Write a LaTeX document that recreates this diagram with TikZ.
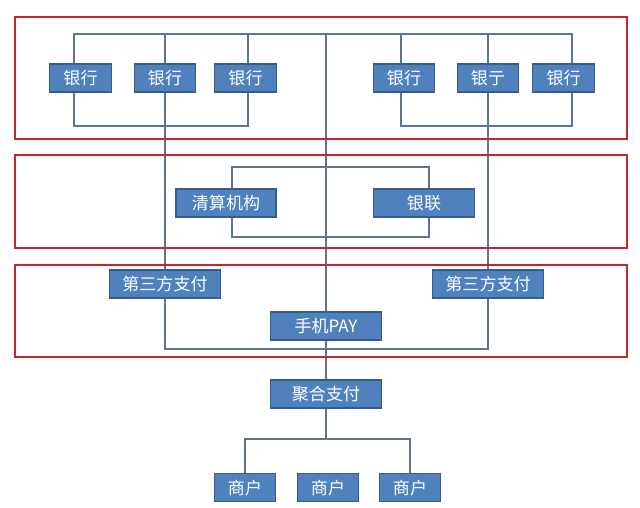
\documentclass[tikz,border=0pt]{standalone}
\usepackage{fontspec}
\usepackage{xcolor}
\usepackage{tikz}
\usetikzlibrary{shapes,backgrounds}
\newfontfamily\cjk{Noto Sans CJK SC}
\definecolor{boxblue}{HTML}{4F81BD}
\definecolor{boxedge}{HTML}{385D8A}
\definecolor{wire}{HTML}{5E7491}
\definecolor{framered}{HTML}{C8262E}
\tikzstyle{block} = [rectangle, draw=boxedge, line width=0.8pt, fill=boxblue, text=white, text centered, minimum height=0.7cm, inner sep=0pt, font=\cjk\fontsize{12.1}{14}\selectfont]
\tikzstyle{bank} = [block, minimum width=1.53cm]
\tikzstyle{wide} = [block, minimum width=2.78cm]
\tikzstyle{line} = [draw=wire, line width=0.8pt]
\tikzstyle{frame} = [draw=framered, line width=1.1pt]

\begin{document}
\begin{tikzpicture}
\useasboundingbox (0,0) rectangle (16,-12.675);
% layers
\draw [frame] (0.375,-0.425) rectangle (15.675,-3.475);
\draw [frame] (0.375,-3.875) rectangle (15.675,-6.2);
\draw [frame] (0.375,-6.625) rectangle (15.675,-8.925);
% banks
\node [bank] (bank1) at (2.0125,-1.95) {银行};
\node [bank] (bank2) at (4.125,-1.95) {银行};
\node [bank] (bank3) at (6.1375,-1.95) {银行};
\node [bank] (bank4) at (10.1,-1.95) {银行};
\node [bank] (bank5) at (12.2,-1.95) {银亍};
\node [bank] (bank6) at (14.0875,-1.95) {银行};
% clearing
\node [block, minimum width=2.5cm] (clear) at (5.65,-5.075) {清算机构};
\node [block, minimum width=2.52cm] (unionpay) at (10.6,-5.075) {银联};
% payment
\node [wide] (third1) at (4.125,-7.1) {第三方支付};
\node [wide] (third2) at (12.2,-7.1) {第三方支付};
\node [wide] (pay) at (8.15,-8.15) {手机PAY};
\node [wide] (agg) at (8.15,-9.85) {聚合支付};
% shops
\node [bank] (shop1) at (6.125,-12.19) {商户};
\node [bank] (shop2) at (8.2,-12.19) {商户};
\node [bank] (shop3) at (10.25,-12.19) {商户};
\coordinate (topL) at (1.85,-0.85);
\coordinate (topR) at (14.3,-0.85);
\coordinate (lowL) at (1.85,-3.15);
\coordinate (lowM) at (6.2,-3.15);
\coordinate (lowN) at (10.025,-3.15);
\coordinate (lowR) at (14.3,-3.15);
\coordinate (ringTL) at (5.8,-4.175);
\coordinate (ringBR) at (10.725,-5.925);
\coordinate (payBus) at (0,-8.725);
\coordinate (shopBus) at (0,-10.975);
\begin{scope}[on background layer]
\path [line] (bank1.north -| topL) -- (topL) -- (topR) -- (bank6.north -| topR);
\path [line] (bank3.north -| lowM) -- (lowM |- topL);
\path [line] (bank4.north -| lowN) -- (lowN |- topL);
\path [line] (bank1.south -| lowL) -- (lowL) -- (lowM) -- (bank3.south -| lowM);
\path [line] (bank4.south -| lowN) -- (lowN) -- (lowR) -- (bank6.south -| lowR);
\path [line] (bank2 |- topL) -- (third1);
\path [line] (bank5 |- topL) -- (third2);
\path [line] (pay |- topL) -- (agg) -- (agg |- shopBus);
\path [line] (ringTL) rectangle (ringBR);
\path [line] (third1) -- (third1 |- payBus) -- (third2 |- payBus) -- (third2);
\path [line] (shop1) -- (shop1 |- shopBus) -- (shop3 |- shopBus) -- (shop3);
\end{scope}
\end{tikzpicture}
\end{document}
